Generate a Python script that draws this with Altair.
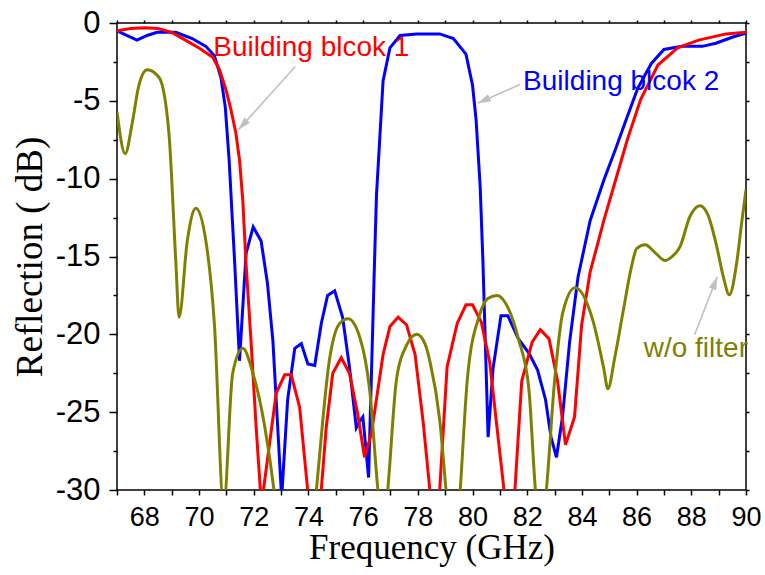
import math
import altair as alt
import pandas as pd

# ---------------- data ----------------
b1_freq = [67.0, 67.5, 68.0, 68.5, 69.0, 69.5, 70.0, 70.5, 70.75, 71.0, 71.17, 71.35, 71.48, 71.6, 71.72,
           71.9, 72.09, 72.28, 72.82, 73.13, 73.37, 73.68, 74.0, 74.22, 74.47, 74.65, 74.89, 75.2, 75.5,
           75.8, 76.05, 76.3, 76.73, 76.98, 77.28, 77.59, 77.9, 78.2, 78.55, 78.8, 79.07, 79.44, 79.76,
           80.0, 80.32, 80.63, 80.96, 81.28, 81.55, 81.8, 82.18, 82.48, 82.8, 83.11, 83.4, 83.73, 83.99,
           84.3, 84.8, 85.23, 85.66, 86.15, 86.78, 87.5, 88.27, 89.27, 90.0]
b1_refl = [-0.5, -0.35, -0.3, -0.35, -0.6, -1.1, -1.6, -2.2, -3.0, -4.4, -5.6, -7.1, -8.8, -11.4, -15.5,
           -20.4, -26.0, -31.0, -23.8, -22.6, -22.6, -24.7, -30.5, -32.0, -30.0, -26.0, -22.5, -21.5, -22.5,
           -25.1, -27.9, -26.4, -21.3, -19.5, -18.9, -19.4, -21.3, -25.7, -32.0, -30.0, -22.1, -19.3, -18.1,
           -18.1, -19.2, -21.8, -27.0, -32.0, -30.0, -23.0, -20.5, -19.7, -20.3, -23.0, -27.1, -25.3, -19.4,
           -16.0, -12.7, -10.1, -7.5, -4.9, -2.7, -1.6, -1.1, -0.7, -0.6]

b2_freq = [67.0, 67.73, 68.1, 68.47, 69.15, 69.75, 70.25, 70.56, 70.8, 70.96, 71.1, 71.3, 71.48, 71.72,
           71.98, 72.27, 72.5, 72.7, 73.02, 73.24, 73.5, 73.74, 73.98, 74.23, 74.47, 74.7, 74.96, 75.25,
           75.5, 75.75, 75.87, 75.99, 76.2, 76.43, 76.49, 76.73, 76.98, 77.35, 77.96, 78.8, 79.3, 79.76,
           80.0, 80.13, 80.28, 80.38, 80.57, 80.75, 81.04, 81.29, 81.68, 82.06, 82.38, 82.67, 82.87, 83.07,
           83.29, 83.55, 83.86, 84.3, 84.8, 85.23, 85.66, 86.04, 86.54, 87.0, 87.65, 88.4, 88.9, 89.52, 90.0]
b2_refl = [-0.5, -1.1, -0.8, -0.6, -0.6, -1.0, -1.5, -2.1, -3.5, -5.4, -8.8, -15.3, -21.7, -14.8,
           -13.1, -14.0, -16.7, -20.4, -30.5, -24.2, -20.9, -20.6, -21.9, -22.0, -19.3, -17.5, -17.2, -18.9,
           -22.1, -26.0, -25.6, -25.3, -29.2, -14.5, -11.0, -3.7, -1.6, -0.8, -0.7, -0.7, -1.0, -2.0,
           -4.0, -6.2, -10.5, -15.3, -26.6, -22.2, -18.8, -18.8, -20.3, -21.2, -22.3, -24.2, -26.6, -27.9,
           -25.3, -20.5, -16.3, -12.7, -10.1, -8.1, -6.0, -4.2, -2.6, -1.7, -1.5, -1.5, -1.3, -0.9, -0.65]

wo_freq = [67.0, 67.3, 67.55, 67.8, 68.1, 68.54, 68.9, 69.15, 69.27, 69.57, 69.88, 70.25, 70.56, 70.9,
           71.23, 71.6, 71.97, 72.4, 72.74, 73.5, 74.29, 74.78, 75.14, 75.45, 75.88, 76.24, 76.54, 76.72,
           76.9, 77.22, 77.59, 77.96, 78.26, 78.45, 78.8, 79.03, 79.3, 79.55, 79.82, 80.25, 80.56, 80.9,
           81.3, 81.68, 82.06, 82.3, 82.5, 82.7, 83.0, 83.3, 83.75, 84.4, 84.8, 84.95, 85.2, 85.5, 85.82,
           86.0, 86.31, 86.7, 87.04, 87.3, 87.59, 87.95, 88.32, 88.6, 88.93, 89.17, 89.39, 89.66, 89.84, 90.0]
wo_refl = [-5.7, -8.4, -6.5, -4.0, -3.0, -3.5, -7.1, -15.3, -18.9, -14.0, -11.9, -14.0, -19.3, -31.0,
           -22.5, -20.9, -22.5, -25.9, -30.0, -45.0, -30.0, -21.5, -19.3, -19.0, -20.2, -23.6, -30.0, -33.0,
           -30.0, -22.9, -20.7, -20.0, -20.6, -21.8, -25.5, -30.0, -36.0, -30.0, -22.7, -18.8, -17.7, -17.5,
           -18.3, -20.3, -23.5, -30.0, -33.0, -30.0, -23.0, -18.6, -17.0, -19.1, -22.2, -23.5, -21.5, -18.6, -15.6,
           -14.5, -14.25, -14.8, -15.26, -15.0, -14.36, -12.43, -11.74, -12.3, -14.36, -16.3, -17.46, -15.4, -12.85, -10.7]

series_names = ["Building blcok 2", "Building blcok 1", "w/o filter"]
series_colors = ["#0000ff", "#ff0000", "#808000"]

label_text = ["Building blcok 1", "Building blcok 2", "w/o filter"]
label_x = [70.52, 81.85, 86.26]
label_y = [-2.15, -4.29, -21.45]
label_color = ["#ff0000", "#0000ff", "#808000"]

arrow_x_start = [73.52, 81.74, 88.12]
arrow_y_start = [-2.79, -3.95, -20.03]
arrow_x_end = [71.44, 80.19, 88.95]
arrow_y_end = [-6.86, -5.15, -16.3]

x_major = list(range(67, 91))
y_major = [0, -5, -10, -15, -20, -25, -30]
y_minor = [-2.5, -7.5, -12.5, -17.5, -22.5, -27.5]
y_right = [0, -2.5, -5, -7.5, -10, -12.5, -15, -17.5, -20, -22.5, -25, -27.5, -30]

# ---------------- layout ----------------
W, H = 629, 467
X0, X1, Y0, Y1 = 67, 90, -30, 0

xs = alt.Scale(domain=[X0, X1], nice=False, zero=False)
ys = alt.Scale(domain=[Y0, Y1], nice=False, zero=False)

rows = []
for name, fx, fy in [(series_names[0], b2_freq, b2_refl),
                     (series_names[1], b1_freq, b1_refl),
                     (series_names[2], wo_freq, wo_refl)]:
    for i, (a, b) in enumerate(zip(fx, fy)):
        rows.append({"series": name, "x": a, "y": b, "i": i})
df = pd.DataFrame(rows)

color = alt.Color("series:N", scale=alt.Scale(domain=series_names, range=series_colors), legend=None)

tick_common = dict(domain=False, grid=False, tickColor="black", tickWidth=1.5)

x_bottom = alt.Axis(values=x_major, tickSize=5, labelExpr="datum.value % 2 == 0 ? '' + datum.value : ''",
                    labelFont="Liberation Sans Narrow, Arial Narrow, Liberation Sans", labelFontSize=27,
                    labelColor="black", labelPadding=9, labelFlush=False, labelOverlap=False,
                    title="Frequency (GHz)", titleFont="Liberation Serif", titleFontSize=35,
                    titleFontWeight="normal", titleColor="black", titlePadding=0, **tick_common)
y_left = alt.Axis(values=y_major, tickSize=8, labelExpr="'' + datum.value",
                  labelFont="Liberation Sans", labelFontSize=31, labelColor="black", labelPadding=9,
                  labelFlush=False, labelOverlap=False,
                  title="Reflection ( dB)", titleFont="Liberation Serif", titleFontSize=37,
                  titleFontWeight="normal", titleColor="black", titlePadding=6, **tick_common)

lines_lin = alt.Chart(df[df.series != "w/o filter"]).mark_line(strokeWidth=3, clip=True).encode(
    x=alt.X("x:Q", scale=xs, axis=x_bottom),
    y=alt.Y("y:Q", scale=ys, axis=y_left),
    color=color, order="i:Q", detail="series:N")

lines_smooth = alt.Chart(df[df.series == "w/o filter"]).mark_line(
    strokeWidth=3, clip=True, interpolate="monotone").encode(
    x=alt.X("x:Q", scale=xs, axis=None),
    y=alt.Y("y:Q", scale=ys, axis=None),
    color=color, order="i:Q")

frame_df = pd.DataFrame({"x": [X0, X1], "y": [Y0, Y1]})
minor_axes = alt.Chart(frame_df).mark_point(opacity=0).encode(
    x=alt.X("x:Q", scale=xs, axis=alt.Axis(orient="top", values=x_major, tickSize=3, labels=False,
                                           title=None, **tick_common)),
    y=alt.Y("y:Q", scale=ys, axis=alt.Axis(orient="left", values=y_minor, tickSize=4, labels=False,
                                           title=None, **tick_common)))
right_axis = alt.Chart(frame_df).mark_point(opacity=0).encode(
    x=alt.X("x:Q", scale=xs, axis=None),
    y=alt.Y("y:Q", scale=ys, axis=alt.Axis(orient="right", values=y_right, tickSize=3, labels=False,
                                           title=None, **tick_common)))

# annotations
lab_df = pd.DataFrame({"t": label_text, "x": label_x, "y": label_y, "c": label_color})
labels = alt.Chart(lab_df).mark_text(align="left", baseline="alphabetic", font="Liberation Sans",
                                     fontSize=28).encode(
    x=alt.X("x:Q", scale=xs, axis=None), y=alt.Y("y:Q", scale=ys, axis=None),
    text="t:N", color=alt.Color("c:N", scale=None))

px_x = W / (X1 - X0)
px_y = H / (Y1 - Y0)
angles = []
for xa, ya, xb, yb in zip(arrow_x_start, arrow_y_start, arrow_x_end, arrow_y_end):
    dx = (xb - xa) * px_x
    dy = -(yb - ya) * px_y
    angles.append(math.degrees(math.atan2(dx, -dy)) % 360)
arr_df = pd.DataFrame({"x": arrow_x_start, "y": arrow_y_start, "x2": arrow_x_end, "y2": arrow_y_end,
                       "a": angles})
shafts = alt.Chart(arr_df).mark_rule(color="#c0c0c0", strokeWidth=1.6).encode(
    x=alt.X("x:Q", scale=xs, axis=None), y=alt.Y("y:Q", scale=ys, axis=None), x2="x2:Q", y2="y2:Q")
heads = alt.Chart(arr_df).mark_point(filled=True, color="#c0c0c0", opacity=1, size=676,
                                     shape="M0,0L-0.3,1L0.3,1Z").encode(
    x=alt.X("x2:Q", scale=xs, axis=None), y=alt.Y("y2:Q", scale=ys, axis=None),
    angle=alt.Angle("a:Q", scale=None))

chart = alt.layer(lines_lin, lines_smooth, minor_axes, right_axis, labels, shafts, heads).resolve_axis(
    x="independent", y="independent"
).properties(
    width=W, height=H,
    padding={"left": 117, "top": 23, "right": 19, "bottom": 85},
    autosize=alt.AutoSizeParams(type="none"),
    background="white",
).configure_view(stroke="black", strokeWidth=1.5)

chart.save("out.html", embed_options={"renderer": "svg", "actions": False})
